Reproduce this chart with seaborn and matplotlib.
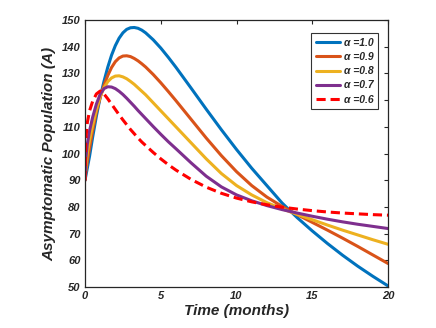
import matplotlib
matplotlib.use('Agg')
import numpy as np
import pandas as pd
import matplotlib.pyplot as plt
import seaborn as sns

# time grid (months)
t = [0, 0.05, 0.15, 0.3, 0.5, 0.75, 1, 1.25, 1.5, 1.75, 2, 2.25, 2.5, 2.75, 3,
     3.25, 3.5, 3.75, 4, 4.5, 5, 5.5, 6, 7, 8, 9, 10, 11, 12, 13, 14, 15, 16,
     17, 18, 19, 20]

# asymptomatic population for each fractional order
A_10 = [90, 91.5, 94.5, 99, 106, 114, 121, 127, 132.3, 136.8, 140.4, 143.2, 145.2,
        146.5, 147.1, 147.2, 146.9, 146.2, 145.2, 142.6, 139.5, 136, 132.3, 124.5,
        116.6, 108.9, 101.5, 94.5, 88, 81.5, 76, 71, 66.3, 61.9, 57.8, 54, 50.4]
A_09 = [90, 93, 97, 102, 108.5, 115.5, 121, 125.5, 129.2, 132.2, 134.4, 135.8,
        136.5, 136.6, 136.3, 135.6, 134.7, 133.6, 132.4, 129.6, 126.5, 123.2, 119.8,
        112.8, 105.8, 99.2, 93.2, 88, 83.7, 80.2, 77.1, 74.2, 71.3, 68.3, 65.2, 62,
        58.8]
A_08 = [90, 95, 100, 105, 110.5, 116.5, 121.3, 124.6, 126.9, 128.3, 129, 129.1,
        128.7, 128, 127, 125.9, 124.6, 123.3, 122, 119, 116, 113, 110, 104, 98,
        92.5, 88, 84.5, 81.6, 79.3, 77.2, 75.2, 73.2, 71.3, 69.5, 67.7, 66]
A_07 = [90, 98, 103.5, 108.5, 113.5, 118.5, 122.2, 124.3, 125, 124.9, 124.3, 123.3,
        122.1, 120.7, 119.2, 117.7, 116.1, 114.6, 113.1, 110.1, 107.2, 104.4, 101.8,
        96.5, 91.5, 87.5, 84.5, 82.3, 80.5, 79, 77.7, 76.5, 75.4, 74.4, 73.5, 72.7,
        71.9]
A_06 = [90, 105, 111.5, 116, 119.5, 122.3, 123.4, 122.3, 120.5, 118.5, 116.5,
        114.5, 112.6, 110.8, 109, 107.4, 105.8, 104.3, 103, 100.4, 98, 95.8, 93.8,
        90.3, 87.4, 85.1, 83.3, 81.9, 80.8, 79.9, 79.2, 78.6, 78.1, 77.7, 77.4,
        77.1, 76.9]

labels = ['α =1.0', 'α =0.9', 'α =0.8', 'α =0.7', 'α =0.6']
series = [A_10, A_09, A_08, A_07, A_06]
colors = ['#0072BD', '#D95319', '#EDB120', '#7E2F8E', '#FF0000']

frames = []
for lab, vals in zip(labels, series):
    frames.append(pd.DataFrame({'t': t, 'A': vals, 'order': lab}))
df = pd.concat(frames, ignore_index=True)

sns.set_style('white')
plt.rcParams['font.family'] = ['Liberation Sans', 'DejaVu Sans']

fig = plt.figure(figsize=(4.36, 3.28), dpi=100)
ax = fig.add_axes([0.195, 0.125, 0.695, 0.814])

dashes = {lab: '' for lab in labels}
dashes['α =0.6'] = (3, 1.6)
sns.lineplot(data=df, x='t', y='A', hue='order', style='order',
             palette=dict(zip(labels, colors)), dashes=dashes,
             linewidth=2.2, ax=ax, legend=False)

ax.set_xlim(0, 20)
ax.set_ylim(50, 150)
ax.set_xticks([0, 5, 10, 15, 20])
ax.set_yticks(np.arange(50, 151, 10))
ax.tick_params(direction='in', top=True, right=True, length=3, width=0.8,
               labelsize=8, pad=3)
for lbl in ax.get_xticklabels() + ax.get_yticklabels():
    lbl.set_fontweight('bold')
    lbl.set_fontstyle('italic')
for sp in ax.spines.values():
    sp.set_color('#262626')
    sp.set_linewidth(0.9)

ax.set_xlabel('Time (months)', fontsize=11, fontweight='bold', style='italic',
              labelpad=2)
ax.set_ylabel('Asymptomatic Population (A)', fontsize=11, fontweight='bold',
              style='italic', labelpad=4)

leg = ax.legend(ax.get_lines()[:5], labels, loc='upper right',
                bbox_to_anchor=(0.985, 0.97), fontsize=7.5, handlelength=2.3,
                handletextpad=0.4, labelspacing=0.4, borderpad=0.45,
                frameon=True, fancybox=False, edgecolor='black')
leg.get_frame().set_linewidth(0.8)
for txt in leg.get_texts():
    txt.set_fontweight('bold')
    txt.set_fontstyle('italic')

fig.savefig('out.png', dpi=100)
